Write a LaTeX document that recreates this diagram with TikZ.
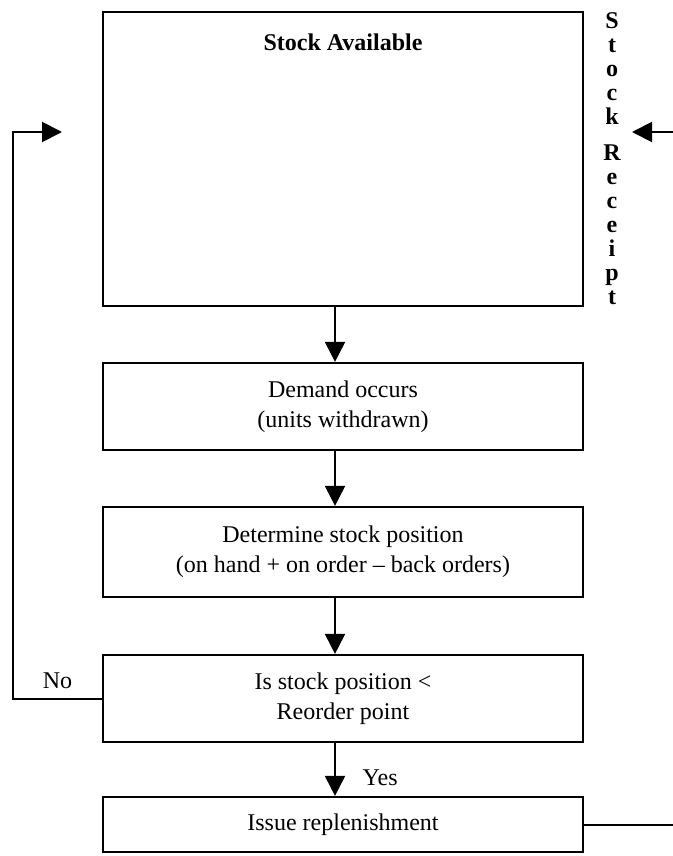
\documentclass[tikz,border=0pt]{standalone}
\usepackage{fontspec}
\setmainfont{Liberation Serif}
\usetikzlibrary{arrows.meta}

\tikzset{
  box/.style={draw, line width=1.1pt, minimum width=240pt, align=center, inner sep=0pt,
    font=\fontsize{12}{15}\selectfont},
  arr/.style={line width=1pt, -{Triangle[length=10pt,width=10pt]}},
  plain/.style={font=\fontsize{12}{15}\selectfont},
}

\begin{document}
\begin{tikzpicture}[x=0.5pt,y=-0.5pt]
        \useasboundingbox (0,0) rectangle (673,856);
        % the boxes
        \node[box, minimum height=147pt] (avail) at (343,159) {};
        \node[font=\bfseries\fontsize{12}{15}\selectfont] (availtxt) at (343,42) {Stock Available};
        \node[box, minimum height=43.5pt] (demand) at (343,406.5) {Demand occurs\\(units withdrawn)};
        \node[box, minimum height=45pt] (position) at (343,552) {Determine stock position\\(on hand + on order -- back orders)};
        \node[box, minimum height=43.5pt] (check) at (343,698.5) {Is stock position <\\Reorder point};
        \node[box, minimum height=27.5pt] (issue) at (343,824.5) {Issue replenishment};
        % stock receipt, written downwards
        \node[font=\bfseries\fontsize{12}{12}\selectfont, align=center, inner sep=0pt, anchor=north] (receipt) at (612,12)
          {S\\t\\o\\c\\k\\[6pt]R\\e\\c\\e\\i\\p\\t};
        \coordinate (loopleft) at (13,132);
        \coordinate (loopin) at (62,132);
        \coordinate (supplyin) at (632,132);
        \coordinate (supply) at (690,132);
        \coordinate (supplyout) at (690,824.5);
        % main flow
        \draw[arr] ([xshift=-4pt]avail.south) -- ([xshift=-4pt]demand.north);
        \draw[arr] ([xshift=-4pt]demand.south) -- ([xshift=-4pt]position.north);
        \draw[arr] ([xshift=-4pt]position.south) -- ([xshift=-4pt]check.north);
        \draw[arr] ([xshift=-4pt]check.south) -- node[plain, midway, right=10pt, yshift=-4pt] {Yes} ([xshift=-4pt]issue.north);
        % no reorder: back to stock
        \draw[arr] (check.west) -- node[plain, above=1pt] {No} (check.west -| loopleft) -- (loopleft) -- (loopin);
        % replenishment goes out, stock comes back in
        \draw[line width=1pt] (issue.east) -- (supplyout);
        \draw[arr] (supply) -- (supplyin);
      \end{tikzpicture}
\end{document}
